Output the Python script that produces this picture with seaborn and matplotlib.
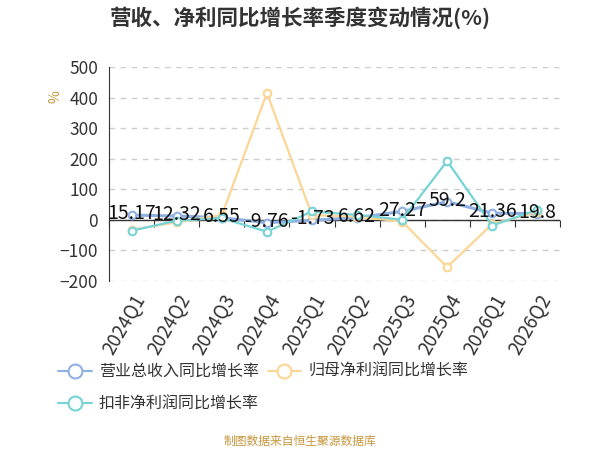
import pandas as pd
import seaborn as sns
import matplotlib.pyplot as plt
from matplotlib.lines import Line2D

# data
quarters = ["2024Q1", "2024Q2", "2024Q3", "2024Q4", "2025Q1",
            "2025Q2", "2025Q3", "2025Q4", "2026Q1", "2026Q2"]
revenue_growth = [15.17, 12.32, 6.55, -9.76, -1.73, 6.62, 27.27, 59.2, 21.36, 19.8]
net_profit_growth = [-33, -8, 15, 415, 15, 10, -6, -155, -14, 25]
deducted_profit_growth = [-36, -3, 5, -39, 27, 16, 0, 192, -19, 32]

series_names = ["营业总收入同比增长率", "归母净利润同比增长率", "扣非净利润同比增长率"]
colors = ["#8fb0e2", "#fdd594", "#76d3d6"]
widths = [2.2, 1.6, 1.6]

sns.set_style("white")
plt.rcParams["font.family"] = ["Noto Sans CJK SC", "DejaVu Sans"]

df = pd.DataFrame({
    "quarter": quarters * 3,
    "value": revenue_growth + net_profit_growth + deducted_profit_growth,
    "series": [s for s in series_names for _ in quarters],
})

fig = plt.figure(figsize=(6, 4.5), dpi=100)
ax = fig.add_axes([0.182, 0.376, 0.751, 0.475])

for name, color, lw in zip(series_names, colors, widths):
    sub = df[df["series"] == name]
    sns.lineplot(data=sub, x="quarter", y="value", ax=ax, color=color,
                 linewidth=lw, marker="o", markersize=5.5, markerfacecolor="white",
                 markeredgecolor=color, markeredgewidth=1.5, sort=False,
                 legend=False, zorder=3)

# value labels for revenue series
for q, v in zip(quarters, revenue_growth):
    ax.annotate(f"{v:g}", (q, v), xytext=(0, 1), textcoords="offset points",
                ha="center", va="center", fontsize=14, color="#111111", zorder=5)

ymin, ymax = -200, 500
ax.set_ylim(ymin, ymax)
ax.set_xlim(-0.5, len(quarters) - 0.5)
ax.set_yticks(range(ymin, ymax + 1, 100))
ax.yaxis.grid(True, linestyle=(0, (4, 4)), color="#cccccc", linewidth=1)
ax.set_axisbelow(True)
ax.axhline(0, color="#333333", linewidth=1, zorder=2)

for side in ["top", "right", "bottom"]:
    ax.spines[side].set_visible(False)
ax.spines["left"].set_color("#333333")
ax.tick_params(axis="y", direction="out", length=5, color="#333333",
               labelsize=12.5, labelcolor="#333333", pad=3)
ax.tick_params(axis="x", length=0, labelsize=13.5, labelcolor="#333333", pad=7)
plt.setp(ax.get_xticklabels(), rotation=60, ha="right", va="top",
         rotation_mode="anchor")
ax.set_xlabel("")
ax.set_ylabel("%", color="#c8963c", fontsize=10)
ax.yaxis.set_label_coords(-0.104, 0.86)

# boundary ticks on the zero line
zero_axis = ax.secondary_xaxis((0 - ymin) / (ymax - ymin))
zero_axis.set_xticks([i - 0.5 for i in range(len(quarters) + 1)])
zero_axis.set_xticklabels([])
zero_axis.spines["bottom"].set_visible(False)
zero_axis.tick_params(axis="x", direction="out", length=5, color="#333333")

fig.suptitle("营收、净利同比增长率季度变动情况(%)", x=0.5, y=0.96, va="center",
             fontsize=15.5, fontweight="bold", color="#333333")

handles = [Line2D([0], [0], color=c, linewidth=1.5, marker="o", markersize=10,
                  markerfacecolor="white", markeredgecolor=c, markeredgewidth=1.5)
           for c in colors]
# matplotlib fills legend columns first, so reorder to get row-wise layout
order = [0, 2, 1]
fig.legend([handles[i] for i in order], [series_names[i] for i in order],
           ncol=2, loc="upper left", bbox_to_anchor=(0.097, 0.193),
           frameon=False, fontsize=11.5, handlelength=2.1, handletextpad=0.45,
           columnspacing=0.55, labelspacing=0.95, borderpad=0, borderaxespad=0,
           labelcolor="#333333")

fig.text(0.5, 0.02, "制图数据来自恒生聚源数据库", ha="center", va="center",
         fontsize=8.5, color="#c8963c")

fig.savefig("out.png", dpi=100)
